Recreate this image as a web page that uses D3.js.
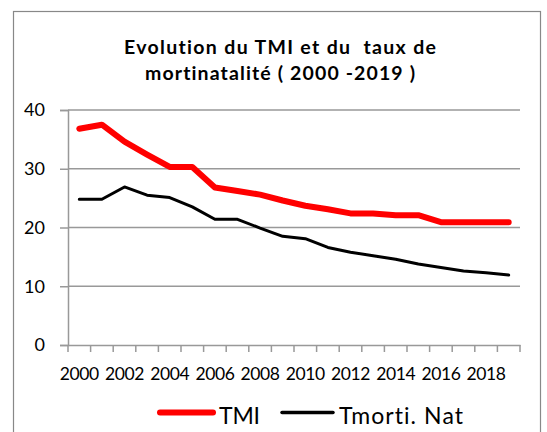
<!DOCTYPE html>
<html><head><meta charset="utf-8">
<script src="https://cdn.jsdelivr.net/npm/d3@7"></script>
<style>body{margin:0;background:#fff}svg{display:block}text{font-variant-ligatures:none;font-feature-settings:"liga" 0}</style>
</head><body>
<script>
const years = d3.range(2000, 2020);
const tmi = [36.8, 37.5, 34.6, 32.4, 30.3, 30.3, 26.8, 26.2, 25.6, 24.6, 23.7, 23.1, 22.4, 22.4, 22.1, 22.1, 20.9, 20.9, 20.9, 20.9];
const tmorti = [24.8, 24.8, 26.9, 25.5, 25.1, 23.5, 21.4, 21.4, 19.9, 18.5, 18.1, 16.6, 15.8, 15.2, 14.6, 13.8, 13.2, 12.6, 12.3, 11.9];
const yTicks = [0, 10, 20, 30, 40];
const xLabels = years.filter(v => v % 2 === 0);
const titleLines = ["Evolution du TMI et du  taux de", "mortinatalité ( 2000 -2019 )"];
const seriesNames = ["TMI", "Tmorti. Nat"];

(function () {
const W = 547, H = 432;
const svg = d3.select("body").append("svg").attr("width", W).attr("height", H);
const font = "Lato, 'Open Sans', sans-serif";

svg.append("rect").attr("x", 13.5).attr("y", 11.5).attr("width", 527).attr("height", 440)
  .attr("fill", "#fff").attr("stroke", "#888").attr("stroke-width", 1.2);

const titleW = [312, 270];
svg.selectAll("text.title").data(titleLines).enter().append("text")
  .attr("x", 280).attr("y", (d, i) => 53.5 + i * 26.5)
  .attr("text-anchor", "middle").attr("font-family", font).attr("font-weight", "bold")
  .attr("font-size", 19.5).attr("fill", "#000").style("white-space", "pre")
  .attr("textLength", (d, i) => titleW[i]).attr("lengthAdjust", "spacing").text(d => d);

const pl = 68, pr = 520, pt = 110, pb = 345;
const x = d3.scaleBand().domain(years).range([pl, pr]);
const y = d3.scaleLinear().domain([0, 40]).range([pb, pt]);

svg.append("g").selectAll("line").data(yTicks.filter(d => d > 0)).enter().append("line")
  .attr("x1", pl).attr("x2", pr).attr("y1", d => y(d)).attr("y2", d => y(d))
  .attr("stroke", "#999").attr("stroke-width", 1.5);

const ya = svg.append("g").attr("transform", `translate(${pl},0)`)
  .call(d3.axisLeft(y).tickValues(yTicks).tickSize(8).tickPadding(15).tickFormat(d3.format("d")));
ya.selectAll("path, line").attr("stroke", "#999").attr("stroke-width", 1.5);
ya.selectAll("text").attr("font-family", font).attr("font-size", 18).attr("fill", "#000");

const xa = svg.append("g").attr("transform", `translate(0,${pb})`)
  .call(d3.axisBottom(x).tickValues(xLabels).tickSize(0).tickPadding(23).tickFormat(d3.format("d")));
xa.select("path").attr("stroke", "#999").attr("stroke-width", 1.5);
xa.selectAll("text").attr("font-family", font).attr("font-size", 17.5).attr("fill", "#000").attr("letter-spacing", -0.4);
const bounds = years.map(d => x(d)).concat([x(years[years.length - 1]) + x.bandwidth()]);
xa.append("g").selectAll("line").data(bounds).enter().append("line")
  .attr("x1", d => d).attr("x2", d => d).attr("y1", 0).attr("y2", 7)
  .attr("stroke", "#999").attr("stroke-width", 1.5);

const line = d3.line().x((d, i) => x(years[i]) + x.bandwidth() / 2).y(d => y(d));
svg.append("path").datum(tmorti).attr("d", line).attr("fill", "none")
  .attr("stroke", "#000").attr("stroke-width", 3).attr("stroke-linejoin", "round").attr("stroke-linecap", "round");
svg.append("path").datum(tmi).attr("d", line).attr("fill", "none")
  .attr("stroke", "#ff0000").attr("stroke-width", 6).attr("stroke-linejoin", "round").attr("stroke-linecap", "round");

const lg = svg.append("g");
const legendItems = [
  {name: seriesNames[0], color: "#ff0000", w: 6, x1: 160, x2: 213, tx: 219, tw: 41},
  {name: seriesNames[1], color: "#000", w: 3.5, x1: 282, x2: 333, tx: 339, tw: 124}
];
legendItems.forEach(it => {
  lg.append("line").attr("x1", it.x1).attr("x2", it.x2).attr("y1", 412.5).attr("y2", 412.5)
    .attr("stroke", it.color).attr("stroke-width", it.w).attr("stroke-linecap", "round");
  lg.append("text").attr("x", it.tx).attr("y", 424).attr("font-family", font)
    .attr("font-size", 23).attr("fill", "#000")
    .attr("textLength", it.tw).attr("lengthAdjust", "spacing").text(it.name);
});
})();
</script>
</body></html>
